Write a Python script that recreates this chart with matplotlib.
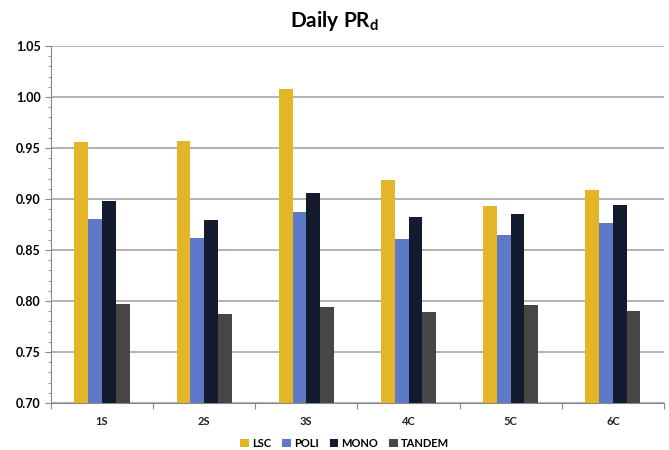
import matplotlib
matplotlib.use("Agg")
import matplotlib.pyplot as plt
import numpy as np
from matplotlib.ticker import MultipleLocator

plt.rcParams['font.family'] = ['Lato', 'DejaVu Sans']

categories = ["1S", "2S", "3S", "4C", "5C", "6C"]
series_names = ["LSC", "POLI", "MONO", "TANDEM"]
lsc = [0.956, 0.957, 1.008, 0.919, 0.893, 0.909]
poli = [0.880, 0.862, 0.887, 0.861, 0.865, 0.876]
mono = [0.898, 0.879, 0.906, 0.882, 0.885, 0.894]
tandem = [0.797, 0.787, 0.794, 0.789, 0.796, 0.790]
colors = ["#E3B627", "#5E79C7", "#141B2F", "#464646"]

fig = plt.figure(figsize=(6.69, 4.5), dpi=100)
ax = fig.add_axes([0.076, 0.1044, 0.9165, 0.7934])

x = np.arange(len(categories))
width = 0.135
values = [lsc, poli, mono, tandem]
for i, (name, vals, c) in enumerate(zip(series_names, values, colors)):
    ax.bar(x + (i - 1.5) * width, np.array(vals) - 0.70, width, bottom=0.70,
           color=c, label=name, zorder=3)

ax.set_xlim(-0.5, len(categories) - 0.5)
ax.set_ylim(0.70, 1.05)
ax.yaxis.set_major_locator(MultipleLocator(0.05))
ax.yaxis.set_minor_locator(MultipleLocator(0.01))
ax.yaxis.set_major_formatter(matplotlib.ticker.FormatStrFormatter("%.2f"))
ax.grid(axis='y', which='major', color="#A6A6A6", linewidth=1.2, zorder=0)

ax.set_xticks(np.arange(len(categories) + 1) - 0.5)
ax.set_xticklabels([])
ax.set_xticks(x, minor=True)
ax.set_xticklabels(categories, minor=True, fontsize=8, fontweight='bold', color="#222222")
ax.tick_params(axis='x', which='major', length=4, color="#888888")
ax.tick_params(axis='x', which='minor', length=0, pad=9)
ax.tick_params(axis='y', which='major', length=4, color="#888888", labelsize=9)
ax.tick_params(axis='y', which='minor', length=2.5, color="#888888")
for lab in ax.get_yticklabels():
    lab.set_fontweight('bold')

for s in ['top', 'right']:
    ax.spines[s].set_visible(False)
ax.spines['left'].set_color("#888888")
ax.spines['bottom'].set_color("#888888")

fig.suptitle(r"Daily PR$_\mathregular{d}$", fontsize=15, fontweight='bold', y=0.98)

fig.legend(loc='lower center', bbox_to_anchor=(0.515, -0.02), ncol=4, frameon=False,
           handlelength=0.8, handleheight=0.8, handletextpad=0.25,
           columnspacing=1.0, prop={'weight': 'bold', 'size': 8})

fig.savefig("out.png", dpi=100)
